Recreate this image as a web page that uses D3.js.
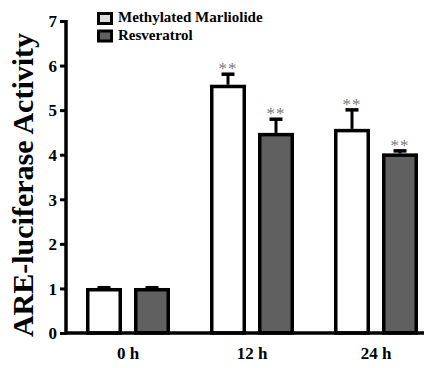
<!DOCTYPE html>
<html>
<head>
<meta charset="utf-8">
<script src="https://cdn.jsdelivr.net/npm/d3@7/dist/d3.min.js"></script>
<style>
  html, body { margin: 0; padding: 0; background: #fff; }
  svg { display: block; }
  text { font-family: "Liberation Serif", "Times New Roman", serif; }
</style>
</head>
<body>
<svg id="chart" width="435" height="368"></svg>
<script>
const categories = ["0 h", "12 h", "24 h"];
const series = ["Methylated Marliolide", "Resveratrol"];
const methylatedValues = [1.01, 5.57, 4.58];
const methylatedErrors = [0.04, 0.27, 0.46];
const resveratrolValues = [1.01, 4.49, 4.03];
const resveratrolErrors = [0.04, 0.34, 0.09];
const significance = [["", ""], ["**", "**"], ["**", "**"]];
const yTicks = [0, 1, 2, 3, 4, 5, 6, 7];
const seriesFill = ["#ffffff", "#606060"];
const legendFill = ["#dcdcdc", "#606060"];

const svg = d3.select("#chart");

const y = d3.scaleLinear().domain([0, 7]).range([333, 21]);
const x = d3.scaleBand().domain(categories).range([66, 438]).padding(0);
const xs = d3.scaleBand().domain(series).range([20, 104]).paddingInner(0.25).paddingOuter(0);

const data = [];
categories.forEach((c, i) => {
  data.push({cat: c, s: series[0], v: methylatedValues[i], e: methylatedErrors[i], sig: significance[i][0], fill: seriesFill[0]});
  data.push({cat: c, s: series[1], v: resveratrolValues[i], e: resveratrolErrors[i], sig: significance[i][1], fill: seriesFill[1]});
});

const sw = 3.5;
const bw = xs.bandwidth();

// error bars
const eb = svg.append("g");
data.forEach(d => {
  const cx = x(d.cat) + xs(d.s) + bw / 2;
  eb.append("line")
    .attr("x1", cx).attr("x2", cx)
    .attr("y1", y(d.v)).attr("y2", y(d.v + d.e) + 1.5)
    .attr("stroke", "#000").attr("stroke-width", 3);
  eb.append("line")
    .attr("x1", cx - 6.5).attr("x2", cx + 6.5)
    .attr("y1", y(d.v + d.e) + 1.5).attr("y2", y(d.v + d.e) + 1.5)
    .attr("stroke", "#000").attr("stroke-width", 3.5);
  if (d.sig) {
    eb.append("text")
      .attr("x", cx).attr("y", y(d.v + d.e) + 1.5)
      .attr("text-anchor", "middle")
      .attr("font-size", 17)
      .attr("letter-spacing", 1)
      .attr("fill", "#7a7a7a")
      .text(d.sig);
  }
});

// bars
svg.append("g").selectAll("rect").data(data).join("rect")
  .attr("x", d => x(d.cat) + xs(d.s) + sw / 2)
  .attr("y", d => y(d.v) + sw / 2)
  .attr("width", bw - sw)
  .attr("height", d => y(0) - y(d.v) - sw / 2)
  .attr("fill", d => d.fill)
  .attr("stroke", "#000")
  .attr("stroke-width", sw);

// y axis
const yAxis = svg.append("g").attr("transform", "translate(66,0)")
  .call(d3.axisLeft(y).tickValues(yTicks).tickFormat(d3.format("d")).tickSize(6).tickPadding(3));
yAxis.select(".domain").attr("stroke-width", 3.5).attr("d", `M0,${y(7) - 1}V${y(0) + 1.5}`);
yAxis.selectAll(".tick line").attr("stroke-width", 3);
yAxis.selectAll(".tick text")
  .attr("font-family", "'Liberation Serif', serif")
  .attr("font-weight", "bold").attr("font-size", 17).attr("fill", "#000")
  .attr("dy", "0.34em");

// x axis
const xAxis = svg.append("g").attr("transform", `translate(0,${y(0)})`)
  .call(d3.axisBottom(x).tickSize(0).tickPadding(14));
xAxis.select(".domain").attr("stroke-width", 3.5).attr("d", `M66,0H424`);
xAxis.selectAll(".tick text")
  .attr("font-family", "'Liberation Serif', serif")
  .attr("font-weight", "bold").attr("font-size", 17).attr("fill", "#000");

// y label
svg.append("text")
  .attr("transform", "translate(33,185) rotate(-90)")
  .attr("text-anchor", "middle")
  .attr("font-weight", "bold")
  .attr("font-size", 30)
  .text("ARE-luciferase Activity");

// legend
const lg = svg.append("g");
series.forEach((s, i) => {
  lg.append("rect")
    .attr("x", 98.5).attr("y", 13.5 + i * 17.5)
    .attr("width", 13).attr("height", 10)
    .attr("fill", legendFill[i]).attr("stroke", "#000").attr("stroke-width", 3);
  lg.append("text")
    .attr("x", 118).attr("y", 22 + i * 17.5)
    .attr("font-weight", "bold").attr("font-size", 15)
    .text(s);
});
</script>
</body>
</html>
